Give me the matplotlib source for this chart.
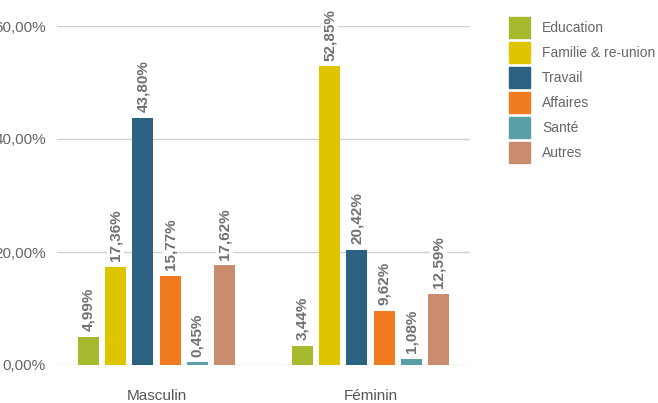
import numpy as np
import matplotlib.pyplot as plt
from matplotlib.patches import Patch

genres = ["Masculin", "Féminin"]
motifs = ["Education", "Familie & re-union", "Travail", "Affaires", "Santé", "Autres"]
masculin = [4.99, 17.36, 43.80, 15.77, 0.45, 17.62]
feminin = [3.44, 52.85, 20.42, 9.62, 1.08, 12.59]
couleurs = ["#a6b92f", "#dfc400", "#2b6181", "#f07b20", "#5a9fa7", "#c98c6e"]
yticks = [0, 20, 40, 60]

plt.rcParams['font.family'] = ['Liberation Sans', 'DejaVu Sans']

fig = plt.figure(figsize=(6.58, 4.03), dpi=100)
ax = fig.add_axes([57 / 658, 38 / 403, 413 / 658, 339 / 403])

x = np.arange(len(genres))
width = 0.098
step = 0.127
valeurs = np.array([masculin, feminin])

for i, motif in enumerate(motifs):
    pos = x + (i - 2.5) * step
    bars = ax.bar(pos, valeurs[:, i], width, color=couleurs[i], zorder=2)
    for b, v in zip(bars, valeurs[:, i]):
        ax.annotate(f"{v:.2f}%".replace(".", ","),
                    (b.get_x() + b.get_width() / 2, v),
                    xytext=(0, 4), textcoords="offset points",
                    rotation=90, ha="center", va="bottom",
                    fontsize=11, color="#707070", fontweight="bold",
                    bbox=dict(boxstyle="square,pad=0.1", fc="white", ec="none"),
                    zorder=3)

ax.set_xlim(-0.465, 1.465)
ax.set_ylim(0, 60)
ax.set_yticks(yticks)
ax.set_yticklabels([f"{t},00%" for t in yticks])
ax.set_xticks(x)
ax.set_xticklabels(genres)
ax.yaxis.grid(True, color="#d0d0d0", linewidth=1, zorder=0)
ax.set_axisbelow(True)
for s in ax.spines.values():
    s.set_visible(False)
ax.tick_params(axis="both", length=0, colors="#666666", labelsize=11)
ax.tick_params(axis="y", pad=8)
ax.tick_params(axis="x", pad=17, colors="#555555")

handles = [Patch(color=c, label=m) for c, m in zip(couleurs, motifs)]
leg = fig.legend(handles=handles, loc="upper left", bbox_to_anchor=(509 / 658, 1 - 17 / 403),
                 frameon=False, fontsize=10, handlelength=1.51, handleheight=1.95,
                 labelspacing=0.29, handletextpad=0.86, labelcolor="#666666",
                 borderpad=0, borderaxespad=0)

fig.savefig("out.png", dpi=100)
